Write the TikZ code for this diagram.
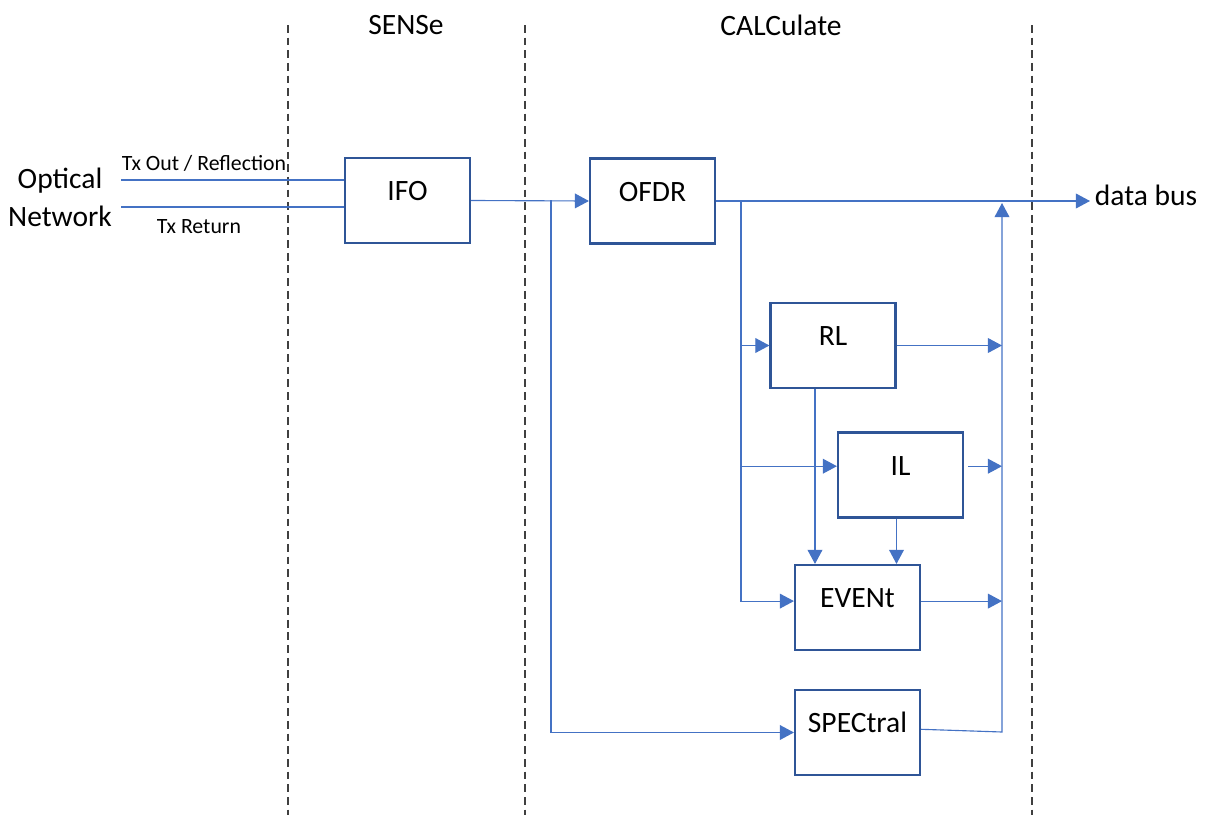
\documentclass[tikz,border=0pt]{standalone}
\usepackage{fontspec}
\setmainfont{Carlito}
\usetikzlibrary{arrows.meta}
\definecolor{linkblue}{HTML}{4472C4}
\definecolor{boxblue}{HTML}{2F5597}
\tikzset{
	block/.style={draw=boxblue, line width=1.5pt, fill=white, minimum width=3.125cm, minimum height=2.125cm,
		text height=0.47cm, text depth=0.47cm, inner sep=0pt, font=\fontsize{21}{25}\selectfont},
	link/.style={draw=linkblue, line width=0.8pt},
	tip/.style={-{Triangle[length=10pt,width=10.5pt]}},
	divider/.style={draw=black!75, line width=0.8pt, dash pattern=on 5.5pt off 3.5pt},
	lbl/.style={font=\fontsize{21}{25}\selectfont},
	small/.style={font=\fontsize{15.5}{18}\selectfont}
}
\begin{document}
\begin{tikzpicture}[x=0.025cm, y=-0.025cm]
		\useasboundingbox (0,0) rectangle (1206,815);
		
		\foreach \X in {288, 525, 1032}{
			\draw[divider] (\X,25)--(\X,815);
		}
		
		\node [lbl] (sense) at (406,25) {SENSe};
		\node [lbl] (calc) at (781,25) {CALCulate};
		
		\node [align=center, font=\fontsize{21}{27}\selectfont] (optnet) at (60,197) {Optical\\Network};
		\node [small] (txoutlbl) at (204,163) {Tx Out / Reflection};
		\node [small] (txretlbl) at (199,227) {Tx Return};
		
		\node [block] (ifo) at (407.5,200.5) {IFO};
		\node [block] (ofdr) at (652.5,201) {OFDR};
		\node [block] (rl) at (833,345.5) {RL};
		\node [block] (il) at (900.5,475) {IL};
		\node [block] (event) at (857.5,607.5) {EVENt};
		\node [block] (spec) at (857.5,732.5) {SPECtral};
		\node [anchor=west, font=\fontsize{21}{25}\selectfont] (databus) at (1090,195) {data bus};
		
		\coordinate (txout) at (121,180);
		\coordinate (txret) at (121,207);
		\coordinate (split1) at (551,200);
		\coordinate (split2) at (741,200);
		\coordinate (collect) at (1002,732);
		\coordinate (collecttop) at (1002,203);
		\coordinate (ilin) at ([yshift=0.22cm]il.west);
		\coordinate (ilout) at ([yshift=0.22cm]il.east);
		\coordinate (eventin) at ([yshift=0.16cm]event.west);
		\coordinate (eventout) at ([yshift=0.16cm]event.east);
		
		% network side
		\draw[link] (txout)--(txout -| ifo.west);
		\draw[link] (txret)--(txret -| ifo.west);
		\draw[link,tip] (ifo.east)--(ofdr.west);
		
		% OFDR outputs
		\draw[link,tip] (ofdr.east)--(ofdr.east -| databus.west);
		\draw[link,tip] (split1)|-(spec.west);
		\draw[link,tip] (split2)|-(eventin);
		\draw[link,tip] (split2 |- rl.west)--(rl.west);
		\draw[link,tip] (split2 |- ilin)--(ilin);
		
		% into EVENt
		\draw[link,tip] ([xshift=-0.45cm]rl.south)--([xshift=-0.45cm]rl.south |- event.north);
		\draw[link,tip] ([xshift=-0.1cm]il.south)--([xshift=-0.1cm]il.south |- event.north);
		
		% results to the bus
		\draw[link,tip] (rl.east)--(rl.east -| collect);
		\draw[link,tip] ([xshift=0.1cm]ilout)--(ilout -| collect);
		\draw[link,tip] (eventout)--(eventout -| collect);
		\draw[link,tip] ([yshift=0.08cm]spec.east)--(collect)--(collecttop);
		\end{tikzpicture}
\end{document}
